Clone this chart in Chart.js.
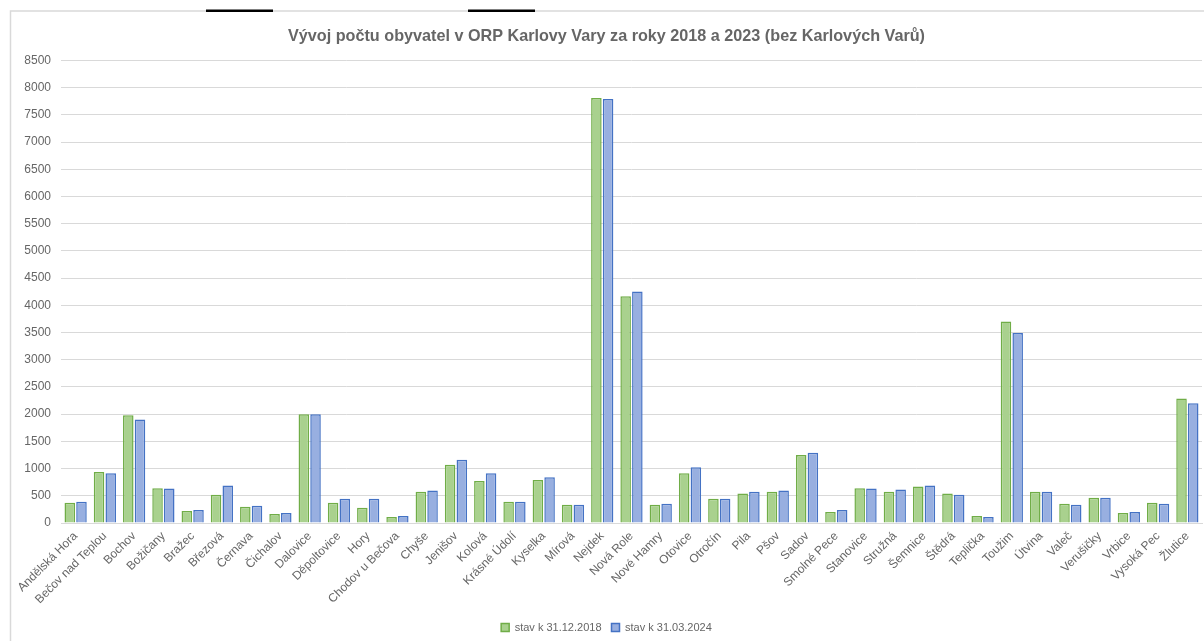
<!DOCTYPE html>
<html lang="cs">
  <head>
    <meta charset="UTF-8"/>
    <title>Vývoj počtu obyvatel ORP Karlovy Vary</title>
    <style>
      html, body { margin: 0; padding: 0; background: #fff; }
    </style>
  </head>
  <body>
  <div>
    <canvas id="myChart" width="1204" height="641"></canvas>
  </div>
  <script src="https://cdn.jsdelivr.net/npm/chart.js"></script>
  <script>
    // obce ORP Karlovy Vary (bez Karlových Varů)
    const obce = ['Andělská Hora', 'Bečov nad Teplou', 'Bochov', 'Božičany', 'Bražec', 'Březová',
      'Černava', 'Čichalov', 'Dalovice', 'Děpoltovice', 'Hory', 'Chodov u Bečova', 'Chyše',
      'Jenišov', 'Kolová', 'Krásné Údolí', 'Kyselka', 'Mírová', 'Nejdek', 'Nová Role',
      'Nové Hamry', 'Otovice', 'Otročín', 'Pila', 'Pšov', 'Sadov', 'Smolné Pece', 'Stanovice',
      'Stružná', 'Šemnice', 'Štědrá', 'Teplička', 'Toužim', 'Útvina', 'Valeč', 'Verušičky',
      'Vrbice', 'Vysoká Pec', 'Žlutice'];
    const stav2018 = [372, 935, 1980, 640, 220, 520, 300, 165, 2000, 372, 280, 110, 575,
      1070, 770, 390, 790, 335, 7810, 4165, 335, 915, 445, 540, 575, 1250, 200, 640,
      575, 670, 540, 128, 3705, 575, 355, 465, 183, 372, 2290];
    const stav2024 = [390, 915, 1900, 635, 238, 690, 318, 183, 2000, 445, 445, 128, 598,
      1160, 915, 390, 842, 335, 7790, 4255, 354, 1025, 445, 573, 598, 1293, 238, 635,
      616, 690, 518, 110, 3490, 573, 335, 464, 201, 354, 2200];
    const yTicks = [0, 500, 1000, 1500, 2000, 2500, 3000, 3500, 4000, 4500, 5000, 5500,
      6000, 6500, 7000, 7500, 8000, 8500];

    const framePlugin = {
      id: 'frame',
      beforeDraw(chart) {
        const ctx = chart.ctx;
        ctx.save();
        ctx.fillStyle = '#fff';
        ctx.fillRect(0, 0, chart.width, chart.height);
        ctx.strokeStyle = '#d9d9d9';
        ctx.lineWidth = 1.5;
        ctx.strokeRect(10.5, 11, chart.width + 20, chart.height + 20);
        ctx.fillStyle = '#000';
        ctx.fillRect(206, 9.5, 67, 2.5);
        ctx.fillRect(468, 9.5, 67, 2.5);
        ctx.restore();
      }
    };

    const data = {
      labels: obce,
      datasets: [{
        label: 'stav k 31.12.2018',
        backgroundColor: '#a9d18e',
        borderColor: '#70ad47',
        borderWidth: 1.5,
        data: stav2018,
      },
      {
        label: 'stav k 31.03.2024',
        backgroundColor: '#98afe0',
        borderColor: '#4472c4',
        borderWidth: 1.5,
        data: stav2024,
      }]
    };
    const config = {
      type: 'bar',
      data,
      plugins: [framePlugin],
      options: {
        responsive: false,
        devicePixelRatio: 1,
        animation: false,
        layout: { padding: { left: 11, right: 2, top: 10, bottom: -2 } },
        datasets: { bar: { categoryPercentage: 0.8, barPercentage: 0.9 } },
        plugins: {
          title: {
            display: true,
            text: 'Vývoj počtu obyvatel v ORP Karlovy Vary za roky 2018 a 2023 (bez Karlových Varů)',
            color: '#666666',
            font: { family: 'Liberation Sans', size: 16.2, weight: 'bold' },
            padding: { top: 17, bottom: 14 }
          },
          legend: {
            position: 'bottom',
            labels: {
              color: '#666666',
              font: { family: 'Liberation Sans', size: 11 },
              boxWidth: 8,
              boxHeight: 8,
              padding: 10
            }
          },
          tooltip: { enabled: false }
        },
        scales: {
          x: {
            grid: { display: false, drawTicks: false },
            border: { display: true, color: '#d9d9d9', width: 1 },
            ticks: {
              color: '#666666',
              font: { family: 'Liberation Sans', size: 12 },
              minRotation: 45,
              maxRotation: 45,
              autoSkip: false,
              padding: 6
            },
            afterFit(scale) { scale.height = 89; }
          },
          y: {
            min: 0,
            max: 8500,
            afterBuildTicks(scale) { scale.ticks = yTicks.map(v => ({ value: v })); },
            grid: { color: '#d9d9d9', drawTicks: false },
            border: { display: false },
            ticks: {
              color: '#666666',
              font: { family: 'Liberation Sans', size: 12 },
              padding: 10,
              callback: (v) => String(v)
            },
            afterFit(scale) { scale.width = 50; }
          }
        }
      }
    };
    var myChart = new Chart(
      document.getElementById('myChart'),
      config
    );
  </script>
  </body>
</html>
